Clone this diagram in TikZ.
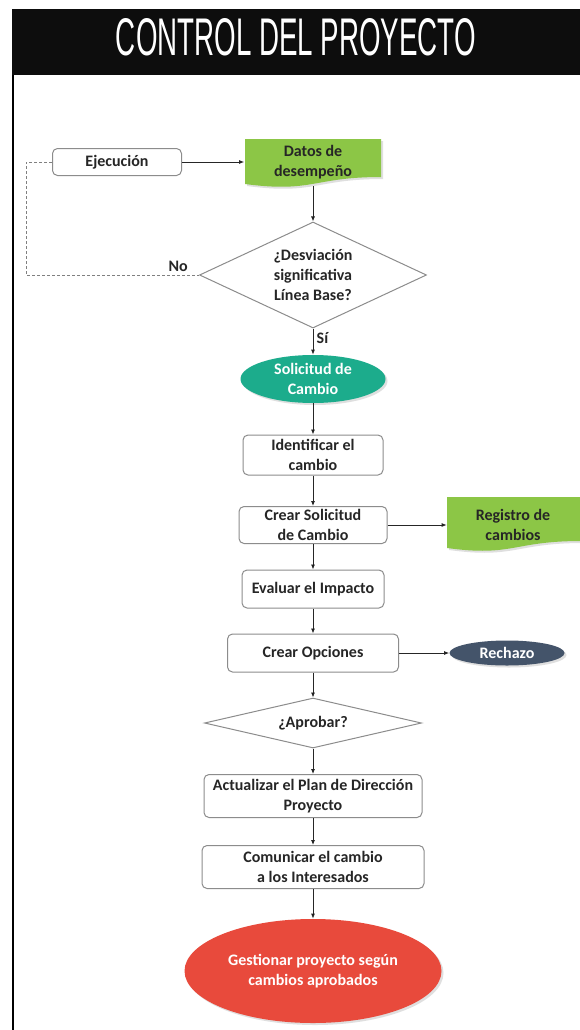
\documentclass[tikz,border=0pt]{standalone}
\usepackage{fontspec}
\usepackage{graphicx}
\setmainfont{Carlito}
\newfontfamily\titlefont{Liberation Sans}
\usetikzlibrary{positioning,shapes.geometric,shadows,arrows.meta}
\definecolor{datosgreen}{RGB}{140,198,70}
\definecolor{solteal}{RGB}{28,172,140}
\definecolor{rechazoblue}{RGB}{68,84,106}
\definecolor{gestred}{RGB}{232,74,60}
\definecolor{boxgray}{RGB}{140,140,140}
\definecolor{txtgray}{RGB}{38,38,38}

\begin{document}
\begin{tikzpicture}[x=1pt, y=-1pt, ->, >={Latex[length=5pt,width=4pt]}, line width=0.8pt, node distance=70pt,
    main node/.style={rectangle, rounded corners=5pt, draw=boxgray, line width=1pt, fill=white, align=center, inner sep=2pt},
    doc node/.style={align=center, inner sep=0pt},
    oval node/.style={ellipse, inner sep=0pt, align=center, text=white, drop shadow={opacity=0.25, shadow xshift=2pt, shadow yshift=-2pt}},
    decision/.style={diamond, draw=boxgray, line width=1pt, align=center, inner sep=0pt}]
    \tikzstyle{every node}=[font=\bfseries\fontsize{16}{20}\selectfont, text=txtgray]

    \useasboundingbox (0,0) rectangle (579,1030);
    \fill[-, white] (0,0) rectangle (579,1030);

    % header and frame
    \fill[-, black!95] (12,9) rectangle (580,75);
    \draw[-, line width=2pt] (13,75) -- (13,1030);
    \node[text=white] (title) at (296,37) {\resizebox{360pt}{37pt}{\mdseries\titlefont CONTROL DEL PROYECTO}};

    % document shapes
    \fill[-, datosgreen, drop shadow={opacity=0.25, shadow xshift=2pt, shadow yshift=-2pt}]
        (245,139) -- (381,139) -- (381,177) .. controls (313,177) and (313,193) .. (245,184) -- cycle;
    \fill[-, datosgreen, drop shadow={opacity=0.25, shadow xshift=2pt, shadow yshift=-2pt}]
        (447,497) -- (581,497) -- (581,541) .. controls (513,541) and (513,557) .. (447,548) -- cycle;

    \node[main node, minimum width=129pt, minimum height=27pt] (1) at (117,162) {Ejecución};
    \node[doc node, minimum width=137pt, minimum height=48pt, node distance=196pt] (2) [right of=1] {Datos de\\desempeño};
    \node[decision, minimum width=227pt, minimum height=106pt, shape aspect=2.15, node distance=113pt] (3) [below of=2] {¿Desviación\\significativa\\Línea Base?};
    \node[oval node, fill=solteal, minimum width=145pt, minimum height=48pt, node distance=104pt] (4) [below of=3] {Solicitud de\\Cambio};
    \node[main node, minimum width=140pt, minimum height=40pt, node distance=76pt] (5) [below of=4] {Identificar el\\cambio};
    \node[main node, minimum width=148pt, minimum height=37pt] (6) [below of=5] {Crear Solicitud\\de Cambio};
    \node[doc node, minimum width=132pt, minimum height=51pt, node distance=200pt] (7) [right of=6] {Registro de\\cambios};
    \node[main node, minimum width=142pt, minimum height=38pt, node distance=64pt] (8) [below of=6] {Evaluar el Impacto};
    \node[main node, minimum width=171pt, minimum height=38pt, node distance=64pt] (9) [below of=8] {Crear Opciones};
    \node[oval node, fill=rechazoblue, minimum width=115pt, minimum height=25pt, node distance=194pt] (10) [right of=9] {Rechazo};
    \node[decision, minimum width=217pt, minimum height=50pt, shape aspect=4.3] (11) [below of=9] {¿Aprobar?};
    \node[main node, minimum width=218pt, minimum height=43pt, node distance=73pt] (12) [below of=11] {Actualizar el Plan de Dirección\\Proyecto};
    \node[main node, minimum width=222pt, minimum height=43pt, node distance=71pt] (13) [below of=12] {Comunicar el cambio\\a los Interesados};
    \node[oval node, fill=gestred, minimum width=257pt, minimum height=104pt, node distance=104pt] (14) [below of=13] {Gestionar proyecto según\\cambios aprobados};

    \path[draw=black!85]
      (1) edge (2)
      (2) edge (3)
      (3) edge node[right, pos=0.35] {Sí} (4)
      (4) edge (5)
      (5) edge (6)
      (6) edge (7)
      (6) edge (8)
      (8) edge (9)
      (9) edge (10)
      (9) edge (11)
      (11) edge (12)
      (12) edge (13)
      (13) edge (14);

    \draw[-, densely dashed, draw=gray] (1.west) -- ++(-26,0) |- node[pos=0.94, above] {No} (3.west);
\end{tikzpicture}
\end{document}
